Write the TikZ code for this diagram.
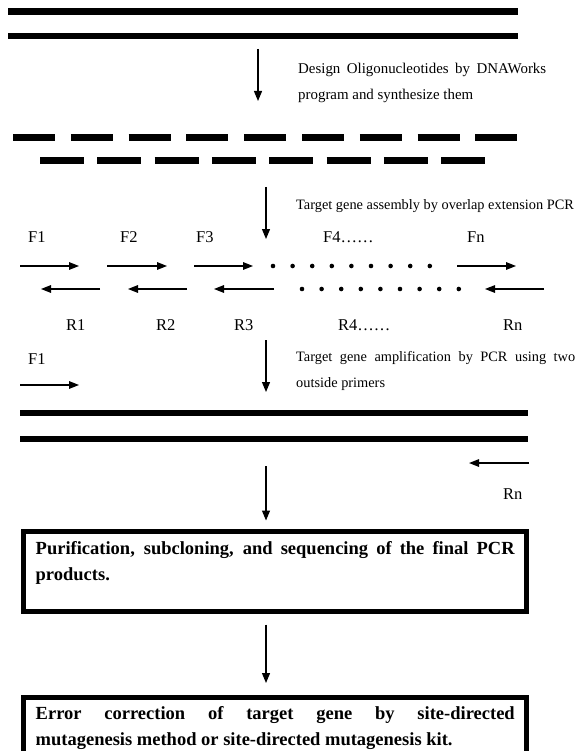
\documentclass[tikz,border=0pt]{standalone}
\usepackage{fontspec}
\setmainfont{Liberation Serif}
\usetikzlibrary{arrows.meta}
\tolerance=9999
\hbadness=10000
\begin{document}
\begin{tikzpicture}[x=1pt,y=-1pt,
  strand/.style={line width=6.5pt},
  oligo/.style={line width=7pt},
  flow/.style={line width=1.2pt,-{Triangle[length=10pt,width=8pt]}},
  primer/.style={line width=1.4pt,-{Triangle[length=10pt,width=7.5pt]}},
  note/.style={anchor=base west,inner sep=0pt,
    font=\fontsize{14.35}{26}\selectfont},
  notepar/.style={note,align=justify},
  lab/.style={anchor=base west,inner sep=0pt,font=\fontsize{16.5}{18}\selectfont},
  dotm/.style={fill=black,circle,inner sep=0pt,minimum size=4.6pt},
  frame/.style={draw,line width=5pt,minimum width=503.5pt,inner sep=0pt},
  boxtext/.style={anchor=base west,inner sep=0pt,text width=479pt,align=justify,
    font=\bfseries\fontsize{18.5}{26}\selectfont}
]
\useasboundingbox (0,0) rectangle (577,751);
\clip (0,0) rectangle (577,751);
% top duplex
\draw[strand] (8,11.5) -- (518,11.5);
\draw[strand] (8,36) -- (518,36);
% arrow 1
\coordinate (a1s) at (258,49);
\coordinate (a1e) at (258,101);
\draw[flow] (a1s) -- (a1e);
\node[notepar,text width=248pt,font=\fontsize{14.9}{26}\selectfont] (t1) at (298,74) {Design Oligonucleotides by DNAWorks\linebreak program and synthesize them};
% oligos
\foreach \i in {0,...,8} {
  \draw[oligo] ({13+57.8*\i},138) -- ({55+57.8*\i},138);
}
\foreach \i in {0,...,7} {
  \draw[oligo] ({40+57.3*\i},161) -- ({84+57.3*\i},161);
}
% arrow 2
\coordinate (a2s) at (266,187);
\coordinate (a2e) at (266,239);
\draw[flow] (a2s) -- (a2e);
\node[note] (t2) at (296,209) {Target gene assembly by overlap extension PCR};
% F labels
\node[lab] (f1) at (28,242) {F1};
\node[lab] (f2) at (120,242) {F2};
\node[lab] (f3) at (196,242) {F3};
\node[lab] (f4) at (323,242) {F4……};
\node[lab] (fn) at (467,242) {Fn};
% forward primers
\coordinate (p1s) at (20,266); \coordinate (p1e) at (79,266);
\coordinate (p2s) at (107,266); \coordinate (p2e) at (167,266);
\coordinate (p3s) at (194,266); \coordinate (p3e) at (253,266);
\coordinate (pns) at (457,266); \coordinate (pne) at (516,266);
\draw[primer] (p1s) -- (p1e);
\draw[primer] (p2s) -- (p2e);
\draw[primer] (p3s) -- (p3e);
\draw[primer] (pns) -- (pne);
\foreach \i in {0,...,8} { \node[dotm] at ({273+19.6*\i},266) {}; }
% reverse primers
\coordinate (r1s) at (100,289); \coordinate (r1e) at (41,289);
\coordinate (r2s) at (187,289); \coordinate (r2e) at (128,289);
\coordinate (r3s) at (274,289); \coordinate (r3e) at (214,289);
\coordinate (rns) at (544,289); \coordinate (rne) at (485,289);
\draw[primer] (r1s) -- (r1e);
\draw[primer] (r2s) -- (r2e);
\draw[primer] (r3s) -- (r3e);
\draw[primer] (rns) -- (rne);
\foreach \i in {0,...,8} { \node[dotm] at ({302+19.6*\i},289) {}; }
% R labels
\node[lab] (rl1) at (66,330) {R1};
\node[lab] (rl2) at (156,330) {R2};
\node[lab] (rl3) at (234,330) {R3};
\node[lab] (rl4) at (338,330) {R4……};
\node[lab] (rln) at (503,330) {Rn};
% arrow 3
\coordinate (a3s) at (266,340);
\coordinate (a3e) at (266,392);
\draw[flow] (a3s) -- (a3e);
\node[notepar,text width=279pt] (t3) at (296,361) {Target gene amplification by PCR using two\linebreak outside primers};
\node[lab] (f1b) at (28,364) {F1};
\coordinate (q1s) at (20,385); \coordinate (q1e) at (79,385);
\draw[primer] (q1s) -- (q1e);
% full product
\draw[strand] (20,413) -- (528,413);
\draw[strand] (20,439) -- (528,439);
\coordinate (qns) at (529,463); \coordinate (qne) at (469,463);
\draw[primer] (qns) -- (qne);
\node[lab] (rnb) at (503,499) {Rn};
% boxes
\node[frame,minimum height=80pt] (b1) at (274.75,571) {};
\node[boxtext] (b1t) at (35.5,554) {Purification, subcloning, and sequencing of the final PCR\linebreak products.};
\node[frame,minimum height=55.5pt] (b2) at (274.75,725.25) {};
\node[boxtext] (b2t) at (35.5,719) {Error correction of target gene by site-directed\linebreak mutagenesis method or site-directed mutagenesis kit.};
% arrows between steps
\coordinate (a4s) at (266,466);
\draw[flow] (a4s) -- ([yshift=8pt]b1.north -| a4s);
\draw[flow] ([yshift=-11pt]b1.south -| a4s) -- ([yshift=12pt]b2.north -| a4s);
\end{tikzpicture}
\end{document}
